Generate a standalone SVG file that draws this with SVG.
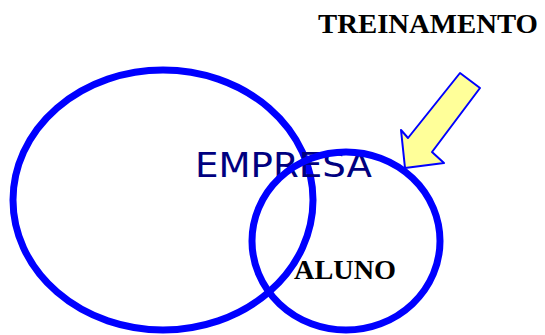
<svg xmlns="http://www.w3.org/2000/svg" width="545" height="335" viewBox="0 0 545 335">
<style>
.ring{fill:none;stroke:#0000ff;stroke-width:7}
.lbl{font-family:"Liberation Serif",serif;font-weight:bold;font-size:27px;fill:#000}
</style>
<rect width="545" height="335" fill="#fff"/>
<g id="empresa">
<ellipse class="ring" cx="163" cy="200" rx="150" ry="130"/>
<text x="195" y="177" font-family="DejaVu Sans, sans-serif" font-size="33" fill="#000080" textLength="177" lengthAdjust="spacingAndGlyphs">EMPRESA</text>
</g>
<g id="aluno">
<ellipse class="ring" cx="346" cy="241" rx="94" ry="89"/>
<text class="lbl" x="294" y="279" textLength="102" lengthAdjust="spacingAndGlyphs">ALUNO</text>
</g>
<g id="treinamento">
<text class="lbl" x="318" y="33" textLength="220" lengthAdjust="spacingAndGlyphs">TREINAMENTO</text>
</g>
<g id="connectors">
<polygon points="460,73 480,88 432,152 444,163 405,168 401,130 408,138" fill="#ffff99" stroke="#0000ff" stroke-width="2" stroke-linejoin="round"/>
</g>
</svg>
